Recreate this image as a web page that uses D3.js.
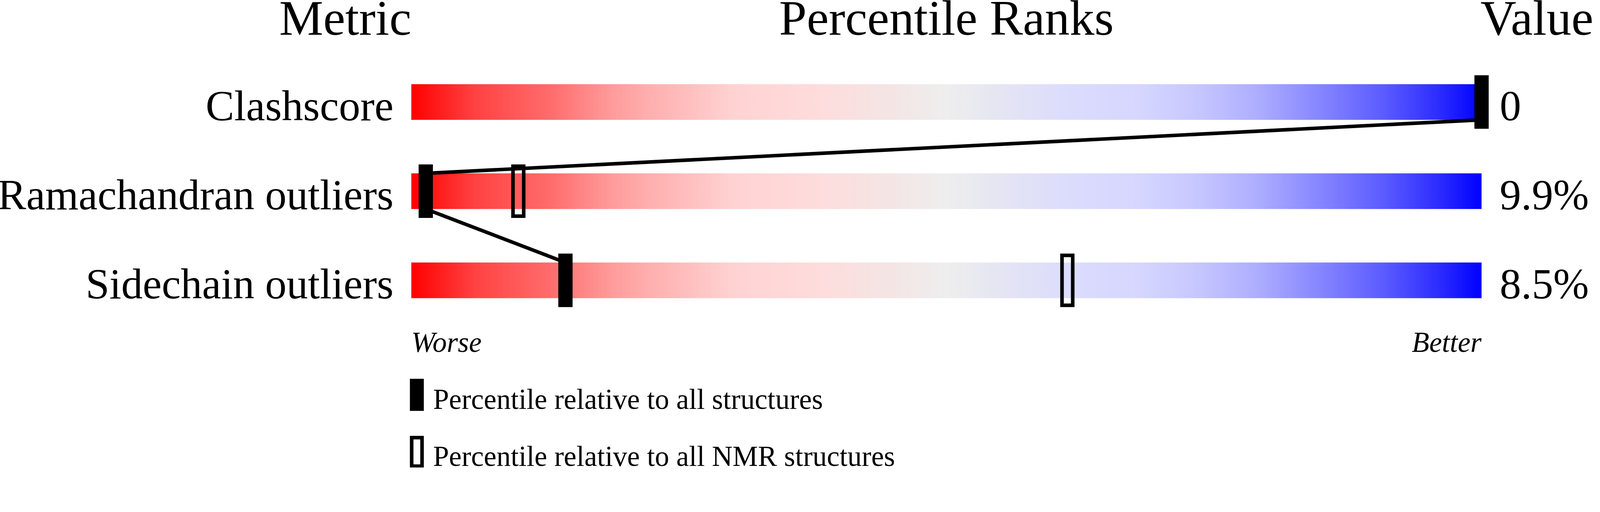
<!DOCTYPE html>
<html>
<head>
<meta charset="utf-8">
<script src="https://cdn.jsdelivr.net/npm/d3@7"></script>
<style>
  html, body { margin: 0; padding: 0; background: #ffffff; overflow: hidden; }
  svg { display: block; width: 100vw; height: auto; }
  text { font-family: "Liberation Serif", "Times New Roman", Times, serif; fill: #000; }
</style>
</head>
<body>
<svg id="chart" viewBox="0 0 4485 1311" preserveAspectRatio="xMinYMin meet"></svg>
<script>
// ---- data ----
const metrics = ["Clashscore", "Ramachandran outliers", "Sidechain outliers"];
const valueLabels = ["0", "9.9%", "8.5%"];
const pctAll = [100, 1.35, 14.4];      // percentile relative to all structures
const pctNMR = [null, 10.0, 61.3];     // percentile relative to all NMR structures
const headers = ["Metric", "Percentile Ranks", "Value"];
const scaleEnds = ["Worse", "Better"];
const legendLabels = ["Percentile relative to all structures", "Percentile relative to all NMR structures"];

// ---- layout ----
const svg = d3.select("#chart");
const x = d3.scaleLinear().domain([0, 100]).range([1153, 4153]);
const y = d3.scalePoint().domain(metrics).range([286, 786]);
const barH = 100, markW = 40, markH = 150, sw = 10;

// gradient
const stops = [
  [0, "#ff0000"], [0.06, "#ff4242"], [0.13, "#ff6c6c"], [0.16, "#ff8585"],
  [0.19, "#ff9d9d"], [0.225, "#ffb0b0"], [0.26, "#ffbfbf"], [0.30, "#ffd2d2"],
  [0.38, "#fedcdc"], [0.45, "#f4e5e5"], [0.50, "#eeeeee"], [0.55, "#e5e5f3"],
  [0.61, "#dcdcfd"], [0.68, "#d6d6ff"], [0.73, "#c8c8ff"], [0.79, "#aeaeff"],
  [0.85, "#8585ff"], [0.91, "#5a5aff"], [0.96, "#2c2cff"], [1, "#0000ff"]
];
const grad = svg.append("defs").append("linearGradient")
  .attr("id", "pg").attr("x1", "0").attr("x2", "1").attr("y1", "0").attr("y2", "0");
grad.selectAll("stop").data(stops).join("stop")
  .attr("offset", d => d[0]).attr("stop-color", d => d[1]);

// headers
svg.append("text").attr("x", x(0)).attr("y", 97).attr("text-anchor", "end")
  .attr("font-size", 139).text(headers[0]);
svg.append("text").attr("x", (x(0) + x(100)) / 2).attr("y", 97).attr("text-anchor", "middle")
  .attr("font-size", 139).text(headers[1]);
svg.append("text").attr("x", x(100) - 3).attr("y", 97).attr("text-anchor", "start")
  .attr("font-size", 139).text(headers[2]);

// bars
svg.selectAll("rect.bar").data(metrics).join("rect").attr("class", "bar")
  .attr("x", x(0)).attr("width", x(100) - x(0))
  .attr("y", d => y(d) - barH / 2).attr("height", barH)
  .attr("fill", "url(#pg)");

// metric labels
svg.selectAll("text.lab").data(metrics).join("text").attr("class", "lab")
  .attr("x", x(0) - 50).attr("y", d => y(d) + barH / 2 + 1)
  .attr("text-anchor", "end").attr("font-size", 120).text(d => d);

// values
svg.selectAll("text.val").data(metrics).join("text").attr("class", "val")
  .attr("x", x(100) + 51).attr("y", d => y(d) + barH / 2 + 1)
  .attr("text-anchor", "start").attr("font-size", 120).text((d, i) => valueLabels[i]);

// connecting lines
const links = d3.range(metrics.length - 1).map(i => [i, i + 1]);
svg.selectAll("line.link").data(links).join("line").attr("class", "link")
  .attr("x1", d => x(pctAll[d[0]])).attr("y1", d => y(metrics[d[0]]) + barH / 2)
  .attr("x2", d => x(pctAll[d[1]])).attr("y2", d => y(metrics[d[1]]) - barH / 2)
  .attr("stroke", "#000").attr("stroke-width", sw);

// NMR markers (open)
const nmrData = metrics.map((m, i) => ({ m, p: pctNMR[i] })).filter(d => d.p !== null);
svg.selectAll("rect.nmr").data(nmrData).join("rect").attr("class", "nmr")
  .attr("x", d => x(d.p) - markW / 2 + sw / 2).attr("width", markW - sw)
  .attr("y", d => y(d.m) - markH / 2 + sw / 2).attr("height", markH - sw)
  .attr("fill", "none").attr("stroke", "#000").attr("stroke-width", sw);

// all-structure markers (filled)
svg.selectAll("rect.all").data(metrics).join("rect").attr("class", "all")
  .attr("x", (d, i) => x(pctAll[i]) - markW / 2).attr("width", markW)
  .attr("y", d => y(d) - markH / 2).attr("height", markH)
  .attr("fill", "#000");

// Worse / Better
svg.append("text").attr("x", x(0)).attr("y", 987).attr("font-style", "italic")
  .attr("font-size", 80).attr("text-anchor", "start").text(scaleEnds[0]);
svg.append("text").attr("x", x(100)).attr("y", 987).attr("font-style", "italic")
  .attr("font-size", 80).attr("text-anchor", "end").text(scaleEnds[1]);

// legend
const lg = svg.append("g");
const legY = d3.scalePoint().domain([0, 1]).range([1062, 1222]);
lg.append("rect").attr("x", 1149).attr("y", legY(0)).attr("width", 39).attr("height", 90).attr("fill", "#000");
lg.append("rect").attr("x", 1149 + sw / 2).attr("y", legY(1) + sw / 2)
  .attr("width", 39 - sw).attr("height", 90 - sw)
  .attr("fill", "none").attr("stroke", "#000").attr("stroke-width", sw);
lg.selectAll("text").data(legendLabels).join("text")
  .attr("x", 1214).attr("y", (d, i) => legY(i) + 84)
  .attr("font-size", 80).text(d => d);
</script>
</body>
</html>
